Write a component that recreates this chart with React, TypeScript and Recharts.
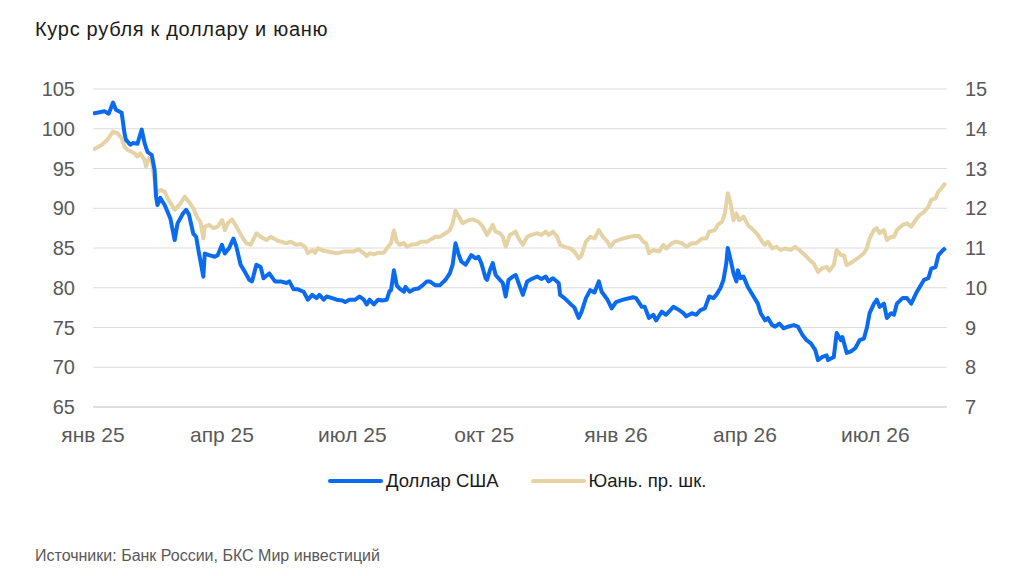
import { LineChart, Line, XAxis, YAxis, CartesianGrid } from 'recharts';

// x values are days counted from 1 Jan 2025
const tickDays = [0, 90, 181, 273, 365, 455, 546];
const tickLabels = ['янв 25', 'апр 25', 'июл 25', 'окт 25', 'янв 26', 'апр 26', 'июл 26'];

const leftTicks = [65, 70, 75, 80, 85, 90, 95, 100, 105];
const rightTicks = [7, 8, 9, 10, 11, 12, 13, 14, 15];

const usdDays = [
  0, 8, 11, 14, 16, 20, 22, 23, 26, 28, 31, 34, 36, 38, 41, 43, 44, 45, 47, 50,
  54, 57, 59, 63, 65, 67, 70, 72, 74, 77, 78, 81, 85, 87, 90, 92, 95, 98, 100, 103,
  106, 109, 111, 114, 117, 119, 123, 127, 131, 135, 137, 140, 143, 147, 150, 153, 156, 158, 161, 163,
  167, 170, 174, 176, 179, 183, 186, 189, 191, 193, 196, 199, 202, 205, 207, 208, 210, 212, 214, 217,
  218, 221, 224, 227, 230, 233, 235, 239, 242, 246, 249, 251, 253, 255, 257, 260, 262, 264, 267, 269,
  271, 274, 275, 277, 279, 281, 284, 286, 288, 290, 293, 295, 297, 300, 303, 306, 310, 313, 316, 318,
  321, 325, 326, 329, 333, 336, 339, 341, 344, 347, 350, 353, 355, 359, 362, 365, 370, 377, 379, 383,
  385, 388, 391, 393, 397, 400, 405, 409, 412, 414, 418, 421, 424, 427, 430, 433, 435, 438, 440, 442,
  443, 445, 447, 449, 450, 452, 454, 457, 461, 464, 466, 469, 471, 474, 476, 479, 482, 485, 489, 492,
  495, 498, 501, 504, 506, 509, 512, 513, 517, 519, 522, 523, 526, 529, 532, 535, 538, 540, 542, 545,
  547, 549, 552, 554, 557, 559, 561, 565, 568, 571, 575, 577, 580, 583, 585, 588, 590, 593, 595,
];
const usdRates = [
  101.9, 102.2, 101.9, 103.3, 102.4, 102.0, 99.4, 98.6, 98.0, 98.2, 98.1, 99.9, 98.2, 97.1, 96.7, 94.8, 91.5, 90.4, 91.3, 90.4,
  88.7, 86.0, 88.1, 89.4, 89.8, 89.2, 86.8, 86.4, 84.3, 81.4, 84.3, 84.1, 83.9, 84.1, 85.4, 84.3, 85.0, 86.2, 85.2, 82.9,
  82.0, 81.0, 80.8, 82.9, 82.6, 81.2, 81.8, 80.8, 80.8, 80.6, 80.8, 79.8, 79.8, 79.5, 78.5, 79.1, 78.7, 79.1, 78.5, 78.9,
  78.7, 78.5, 78.4, 78.2, 78.5, 78.5, 78.9, 78.5, 77.9, 78.5, 77.9, 78.5, 78.4, 78.5, 79.6, 79.7, 82.2, 80.3, 79.9, 79.5,
  80.1, 79.5, 79.8, 79.9, 80.3, 80.8, 80.8, 80.3, 80.3, 81.0, 81.8, 82.9, 85.6, 84.3, 83.3, 82.9, 83.5, 84.1, 83.7, 83.9,
  83.1, 81.2, 81.0, 82.2, 83.1, 81.6, 81.0, 80.6, 78.9, 81.0, 81.4, 81.6, 80.6, 79.1, 80.8, 81.1, 81.4, 81.1, 81.4, 80.8,
  81.2, 80.6, 79.1, 78.7, 78.0, 77.5, 76.2, 77.0, 78.7, 79.7, 79.4, 80.8, 79.5, 78.5, 77.4, 78.2, 78.5, 78.8, 78.7, 77.6,
  77.6, 76.2, 76.6, 75.9, 77.0, 76.6, 77.6, 77.2, 76.8, 76.4, 76.8, 76.6, 77.2, 77.4, 78.9, 78.7, 79.1, 80.0, 81.0, 83.1,
  85.0, 83.5, 81.8, 80.8, 82.2, 81.2, 81.4, 80.1, 78.9, 78.0, 76.8, 75.9, 76.2, 75.3, 75.1, 75.5, 74.9, 75.1, 75.3, 75.1,
  74.1, 73.4, 73.0, 72.2, 70.9, 71.3, 71.5, 70.9, 71.3, 74.3, 73.4, 73.8, 71.8, 72.0, 72.4, 73.4, 73.6, 74.9, 76.8, 78.0,
  78.5, 77.6, 78.0, 76.2, 76.8, 76.6, 78.0, 78.7, 78.7, 78.0, 79.5, 80.1, 81.0, 81.2, 82.4, 82.6, 84.1, 84.7, 85.0,
];

const cnyDays = [
  0, 6, 10, 14, 17, 20, 22, 24, 27, 29, 31, 33, 36, 37, 39, 41, 43, 44, 47, 50,
  52, 55, 57, 61, 64, 67, 70, 73, 75, 77, 78, 81, 84, 87, 90, 92, 94, 97, 100, 104,
  107, 110, 114, 117, 121, 124, 128, 131, 135, 138, 142, 145, 148, 150, 153, 155, 157, 161, 164, 168,
  171, 175, 178, 182, 185, 189, 191, 193, 196, 199, 203, 205, 208, 210, 212, 214, 217, 219, 222, 226,
  229, 233, 236, 239, 242, 246, 249, 251, 253, 256, 258, 262, 265, 269, 272, 275, 277, 279, 281, 284,
  286, 288, 291, 295, 297, 300, 303, 306, 310, 313, 316, 318, 321, 324, 326, 329, 333, 336, 339, 341,
  344, 347, 350, 353, 356, 359, 361, 364, 370, 377, 381, 384, 386, 388, 391, 395, 398, 400, 404, 407,
  411, 414, 418, 421, 425, 428, 430, 434, 436, 439, 441, 443, 445, 447, 449, 451, 454, 457, 461, 464,
  467, 469, 471, 474, 477, 480, 483, 487, 490, 493, 497, 500, 503, 506, 509, 512, 514, 517, 519, 522,
  524, 526, 529, 532, 535, 538, 540, 542, 545, 547, 549, 552, 554, 557, 559, 561, 565, 568, 571, 575,
  577, 580, 583, 585, 588, 590, 593, 595,
];
const cnyRates = [
  13.47, 13.59, 13.72, 13.93, 13.89, 13.76, 13.55, 13.47, 13.42, 13.38, 13.30, 13.38, 13.21, 13.05, 13.26, 13.21, 12.71, 12.38, 12.46, 12.42,
  12.25, 12.08, 11.96, 12.12, 12.29, 12.16, 12.00, 11.75, 11.66, 11.24, 11.54, 11.58, 11.50, 11.54, 11.70, 11.45, 11.62, 11.72, 11.54, 11.28,
  11.12, 11.08, 11.37, 11.28, 11.20, 11.28, 11.20, 11.16, 11.12, 11.16, 11.08, 11.10, 11.03, 10.87, 10.95, 10.88, 10.99, 10.93, 10.91, 10.88,
  10.87, 10.91, 10.91, 10.91, 10.97, 10.87, 10.80, 10.87, 10.84, 10.88, 10.88, 10.99, 11.12, 11.44, 11.16, 11.08, 11.13, 11.03, 11.08, 11.10,
  11.16, 11.16, 11.22, 11.28, 11.28, 11.37, 11.45, 11.62, 11.94, 11.75, 11.62, 11.70, 11.72, 11.66, 11.54, 11.33, 11.45, 11.58, 11.41, 11.37,
  11.28, 11.03, 11.33, 11.41, 11.24, 11.08, 11.28, 11.33, 11.37, 11.33, 11.41, 11.33, 11.41, 11.28, 11.08, 11.03, 10.99, 10.91, 10.74, 10.82,
  11.16, 11.28, 11.24, 11.45, 11.28, 11.16, 11.03, 11.16, 11.24, 11.30, 11.30, 11.16, 11.12, 10.87, 10.95, 10.91, 11.08, 10.99, 11.12, 11.16,
  11.12, 11.03, 11.12, 11.12, 11.24, 11.24, 11.41, 11.45, 11.58, 11.66, 11.87, 12.38, 12.12, 11.70, 11.87, 11.70, 11.79, 11.58, 11.45, 11.33,
  11.16, 11.08, 11.16, 10.99, 11.03, 10.95, 10.99, 10.95, 11.03, 10.95, 10.82, 10.70, 10.61, 10.40, 10.49, 10.52, 10.43, 10.57, 10.95, 10.82,
  10.82, 10.57, 10.63, 10.70, 10.78, 10.87, 10.99, 11.24, 11.45, 11.50, 11.37, 11.45, 11.20, 11.28, 11.28, 11.45, 11.58, 11.62, 11.54, 11.75,
  11.83, 11.91, 12.04, 12.21, 12.25, 12.42, 12.54, 12.64,
];

const usdData = usdDays.map((d, i) => ({ d, v: usdRates[i] }));
const cnyData = cnyDays.map((d, i) => ({ d, v: cnyRates[i] }));

const BLUE = '#0A6BF0';
const BEIGE = '#E5D3A6';
const FONT = '"Liberation Sans", Arial, sans-serif';

const formatMonth = (value: number) => {
  const idx = tickDays.indexOf(value);
  return idx >= 0 ? tickLabels[idx] : '';
};

const LegendItem = ({ color, label }: { color: string; label: string }) => (
  <div style={{ display: 'flex', alignItems: 'center' }}>
    <div style={{ width: 55, height: 4, borderRadius: 2, background: color, marginRight: 3 }} />
    <span style={{ fontSize: 18.5, color: '#1a1a1a' }}>{label}</span>
  </div>
);

export default function App() {
  return (
    <div
      style={{
        position: 'absolute',
        left: 0,
        top: 0,
        width: 1024,
        height: 576,
        background: '#fff',
        fontFamily: FONT,
      }}
    >
      <div
        style={{
          position: 'absolute',
          left: 35,
          top: 17,
          fontSize: 20,
          lineHeight: '24px',
          letterSpacing: 0.7,
          color: '#1a1a1a',
        }}
      >
        Курс рубля к доллару и юаню
      </div>

      <div style={{ position: 'absolute', left: 0, top: 0 }}>
        <LineChart
          width={1024}
          height={576}
          margin={{ top: 89, right: 17, left: 33, bottom: 129 }}
        >
          <CartesianGrid vertical={false} stroke="#DCDCDC" strokeWidth={1} yAxisId="left" />
          <XAxis
            dataKey="d"
            type="number"
            domain={[0, 596]}
            ticks={tickDays}
            tickFormatter={formatMonth}
            allowDataOverflow
            height={40}
            tickLine={false}
            tickSize={0}
            tickMargin={20}
            axisLine={{ stroke: '#D0D0D0' }}
            tick={{ fontSize: 21, fill: '#595959', fontFamily: FONT }}
          />
          <YAxis
            yAxisId="left"
            orientation="left"
            domain={[65, 105]}
            ticks={leftTicks}
            width={60}
            axisLine={false}
            tickLine={false}
            tickSize={0}
            tickMargin={18}
            tick={{ fontSize: 20, fill: '#595959', fontFamily: FONT }}
          />
          <YAxis
            yAxisId="right"
            orientation="right"
            domain={[7, 15]}
            ticks={rightTicks}
            width={60}
            axisLine={false}
            tickLine={false}
            tickSize={0}
            tickMargin={18}
            tick={{ fontSize: 20, fill: '#595959', fontFamily: FONT }}
          />
          <Line
            yAxisId="right"
            data={cnyData}
            dataKey="v"
            name="Юань. пр. шк."
            type="linear"
            stroke={BEIGE}
            strokeWidth={4}
            strokeLinejoin="round"
            dot={false}
            isAnimationActive={false}
          />
          <Line
            yAxisId="left"
            data={usdData}
            dataKey="v"
            name="Доллар США"
            type="linear"
            stroke={BLUE}
            strokeWidth={4}
            strokeLinejoin="round"
            dot={false}
            isAnimationActive={false}
          />
        </LineChart>
      </div>

      <div
        style={{
          position: 'absolute',
          left: 328,
          top: 469,
          height: 24,
          display: 'flex',
          alignItems: 'center',
          gap: 32,
        }}
      >
        <LegendItem color={BLUE} label="Доллар США" />
        <LegendItem color={BEIGE} label="Юань. пр. шк." />
      </div>

      <div
        style={{
          position: 'absolute',
          left: 35,
          top: 547,
          fontSize: 16,
          color: '#595959',
        }}
      >
        Источники: Банк России, БКС Мир инвестиций
      </div>
    </div>
  );
}
